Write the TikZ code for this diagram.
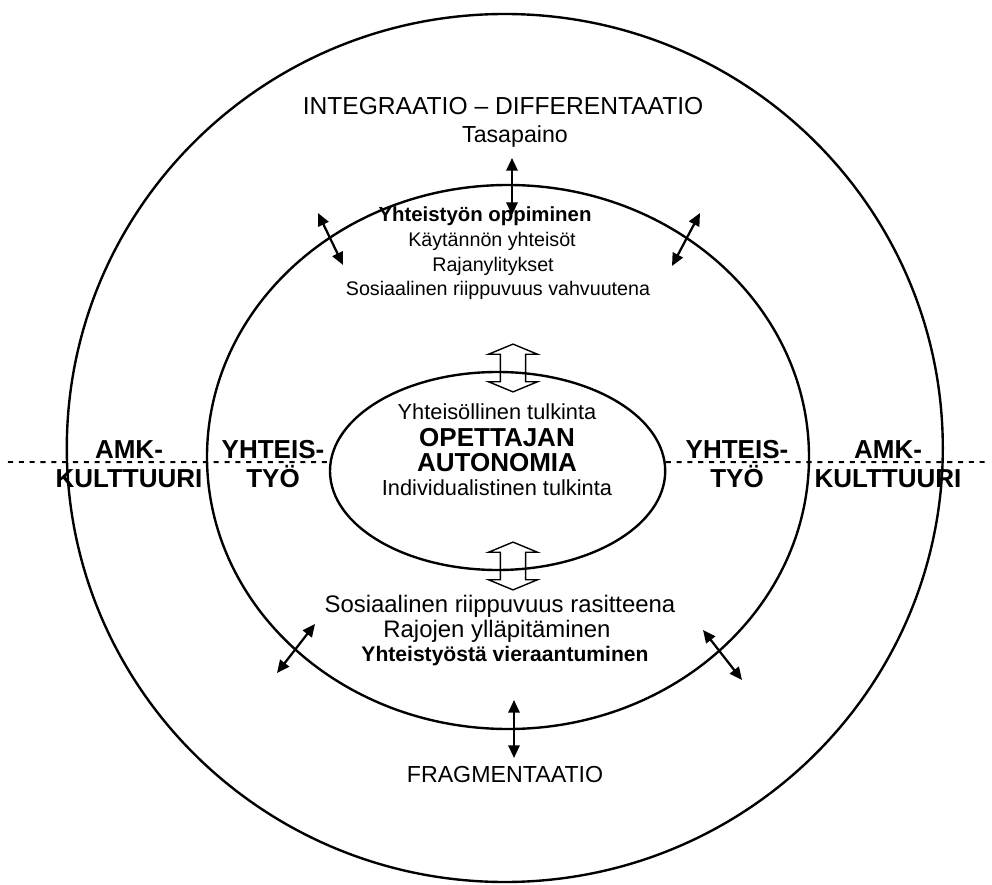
\documentclass[tikz,border=0pt]{standalone}
\usepackage{fontspec}
\setmainfont{Liberation Sans}
\usetikzlibrary{shapes.geometric,shapes.arrows,arrows.meta}

\tikzset{
  ring/.style={line width=1.7pt},
  linkarrow/.style={line width=1.6pt,
    {Triangle[length=9pt,width=8pt]}-{Triangle[length=9pt,width=8pt]}},
  bigarrow/.style={draw, line width=1pt, double arrow, rotate=90,
    inner xsep=0pt, inner ysep=8.5pt, minimum height=34pt,
    double arrow head extend=8.5pt, double arrow tip angle=135},
  dotline/.style={line width=1.4pt, dash pattern=on 3.6pt off 4.1pt},
  heading/.style={font=\fontsize{17.5}{20}\selectfont},
  upperbody/.style={font=\fontsize{14}{17}\selectfont},
  corebody/.style={font=\fontsize{15.5}{18}\selectfont},
  lowerbody/.style={font=\fontsize{17}{19}\selectfont},
  bodybold/.style={font=\fontsize{14.5}{17}\selectfont\bfseries},
  corebold/.style={font=\fontsize{18.5}{20}\selectfont\bfseries},
  side/.style={font=\fontsize{18.5}{21}\selectfont\bfseries, align=center}
}

\begin{document}
\begin{tikzpicture}[scale=1]

\useasboundingbox (0,0) rectangle (24.8,22.1);

% Rings
\draw[ring] (12.62,10.9) ellipse (10.95 and 10.85);   % AMK culture
\draw[ring] (12.7,10.675) ellipse (7.525 and 6.8);    % cooperation
\node[draw, ellipse, ring, minimum width=8.38cm, minimum height=4.95cm]
  (core) at (12.44,10.325) {};                        % autonomy

% Dotted axis
\coordinate (axisL) at (0.2,10.55);
\coordinate (axisR) at (24.75,10.55);
\draw[dotline] (axisL) -- (core.177);
\draw[dotline] (core.3) -- (axisR);

% Outer labels
\node[heading] (integ) at (12.575,19.45) {INTEGRAATIO -- DIFFERENTAATIO};
\node[font=\fontsize{16.5}{19}\selectfont] (balance) at (12.875,18.675) {Tasapaino};
\node[font=\fontsize{16.5}{19}\selectfont] (frag) at (12.625,2.725) {FRAGMENTAATIO};

% Upper block
\node[bodybold] (learn) at (12.125,16.7) {Yhteistyön oppiminen};
\node[upperbody] (practice) at (12.3,16.075) {Käytännön yhteisöt};
\node[upperbody] (border) at (12.325,15.45) {Rajanylitykset};
\node[upperbody] (strength) at (12.45,14.85) {Sosiaalinen riippuvuus vahvuutena};

% Core
\node[corebody] (commun) at (12.425,11.8) {Yhteisöllinen tulkinta};
\node[corebold] (teacher) at (12.425,11.15) {OPETTAJAN};
\node[corebold] (auto) at (12.425,10.525) {AUTONOMIA};
\node[corebody] (indiv) at (12.425,9.9) {Individualistinen tulkinta};

% Lower block
\node[lowerbody] (burden) at (12.5,6.95) {Sosiaalinen riippuvuus rasitteena};
\node[lowerbody] (keep) at (12.425,6.325) {Rajojen ylläpitäminen};
\node[font=\fontsize{15}{17}\selectfont\bfseries] (alien) at (12.625,5.7) {Yhteistyöstä vieraantuminen};

% Side labels
\node[side] (amkL) at (3.225,10.5) {AMK-\\KULTTUURI};
\node[side] (coopL) at (6.825,10.5) {YHTEIS-\\TYÖ};
\node[side] (coopR) at (18.425,10.5) {YHTEIS-\\TYÖ};
\node[side] (amkR) at (22.2,10.5) {AMK-\\KULTTUURI};

% Hollow arrows
\node[bigarrow] (upper) at (12.825,12.9) {};
\node[bigarrow] (lower) at (12.825,7.95) {};

% Crossing arrows
\coordinate (topA) at (12.8,18.15);   \coordinate (topB) at (12.8,16.725);
\coordinate (tlA) at (7.95,16.775);   \coordinate (tlB) at (8.575,15.475);
\coordinate (trA) at (17.5,16.775);   \coordinate (trB) at (16.8,15.45);
\coordinate (blA) at (7.875,6.5);     \coordinate (blB) at (6.925,5.275);
\coordinate (brA) at (17.575,6.35);   \coordinate (brB) at (18.55,5.1);
\coordinate (botA) at (12.85,4.6);    \coordinate (botB) at (12.85,3.15);
\draw[linkarrow] (topA) -- (topB);
\draw[linkarrow] (tlA) -- (tlB);
\draw[linkarrow] (trA) -- (trB);
\draw[linkarrow] (blA) -- (blB);
\draw[linkarrow] (brA) -- (brB);
\draw[linkarrow] (botA) -- (botB);

\end{tikzpicture}
\end{document}
